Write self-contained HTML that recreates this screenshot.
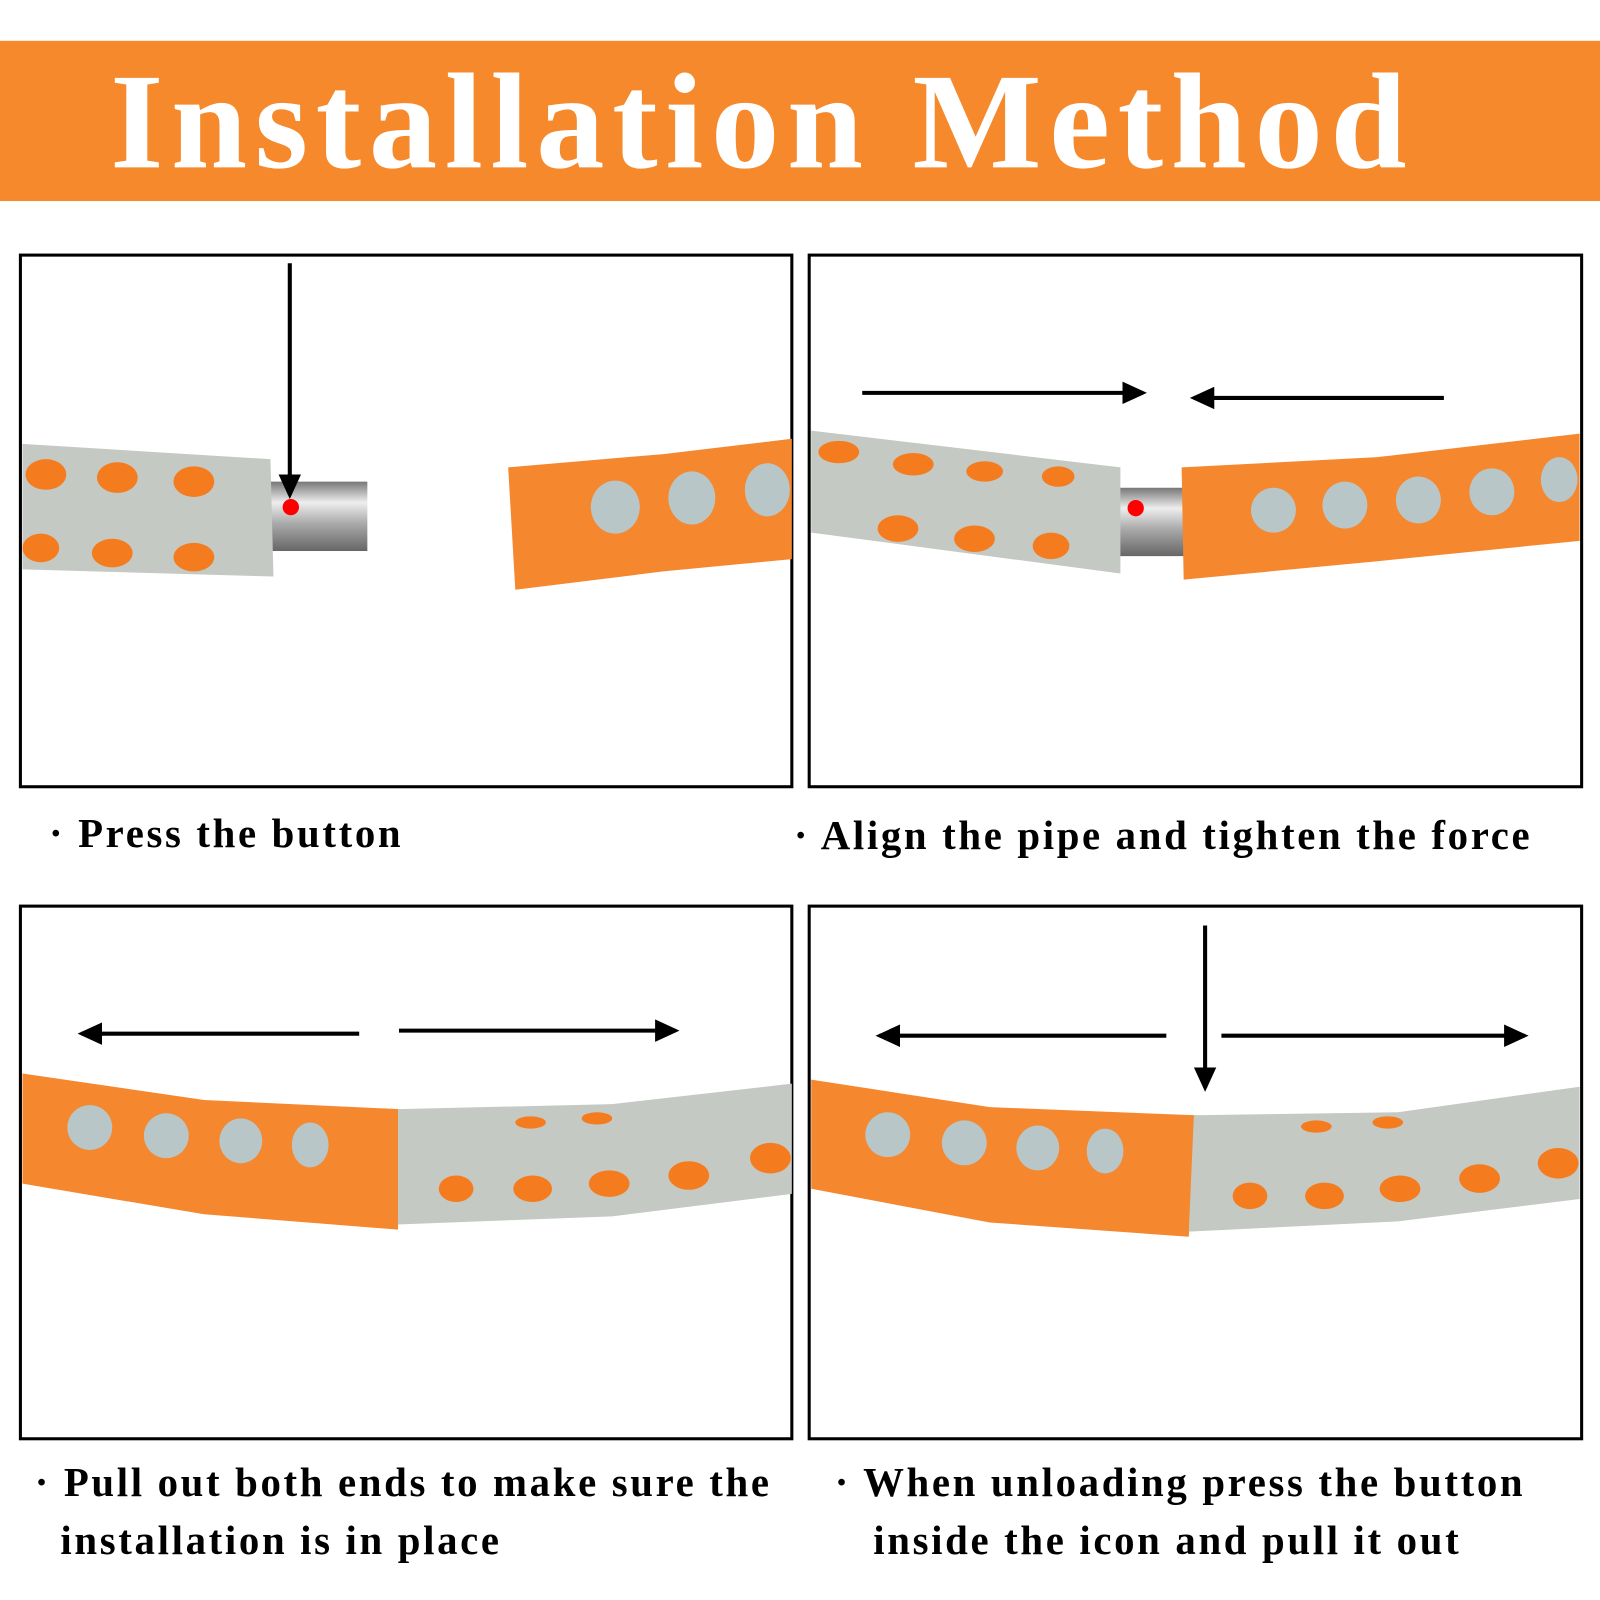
<!DOCTYPE html>
<html><head><meta charset="utf-8"><style>
html,body{margin:0;padding:0;background:#fff;width:1600px;height:1600px;overflow:hidden}
#c{position:absolute;left:0;top:0;width:1568px;height:1568px;transform:scale(1.020408);transform-origin:0 0}
.band{position:absolute;left:0;top:40px;width:1568px;height:157px;background:#f5892b}
.title{position:absolute;left:108px;top:42px;font:bold 134px "Liberation Serif",serif;color:#fff;white-space:nowrap;letter-spacing:7.5px}
.cap{position:absolute;font:bold 40px "Liberation Serif",serif;color:#000;white-space:nowrap;letter-spacing:2.6px;line-height:57px}
</style></head><body><div id="c">
<div class="band"></div>
<div class="title">Installation Method</div>
<svg width="1568" height="1568" style="position:absolute;left:0;top:0">
<defs>
<marker id="a" markerWidth="24" markerHeight="22" refX="20" refY="11" orient="auto" markerUnits="userSpaceOnUse" viewBox="0 0 24 22"><path d="M0,0 L24,11 L0,22z"/></marker>
<linearGradient id="m" x1="0" y1="0" x2="0" y2="1"><stop offset="0" stop-color="#777"/><stop offset=".3" stop-color="#eee"/><stop offset=".6" stop-color="#aaa"/><stop offset="1" stop-color="#666"/></linearGradient>
</defs>
<g fill="none" stroke="#000" stroke-width="3">
<rect x="20" y="250" width="756" height="521"/><rect x="793" y="250" width="757" height="521"/>
<rect x="20" y="888" width="756" height="522"/><rect x="793" y="888" width="757" height="522"/>
</g>
<rect x="262" y="472" width="98" height="68" fill="url(#m)"/>
<path d="M22,435 L265,450 L268,565 L22,558z" fill="#c4c9c4"/>
<g fill="#f57c1e"><ellipse cx="45" cy="465" rx="20" ry="15"/><ellipse cx="115" cy="468" rx="20" ry="15"/><ellipse cx="190" cy="472" rx="20" ry="15"/><ellipse cx="40" cy="537" rx="18" ry="14"/><ellipse cx="110" cy="542" rx="20" ry="14"/><ellipse cx="190" cy="546" rx="20" ry="14"/></g>
<path d="M498,458 L650,445 L776,430 L776,548 L650,560 L505,578z" fill="#f5872e"/>
<g fill="#b9c6c8"><ellipse cx="603" cy="497" rx="24" ry="26"/><ellipse cx="678" cy="488" rx="23" ry="26"/><ellipse cx="752" cy="480" rx="22" ry="26"/></g>
<circle cx="285" cy="497" r="8" fill="#f00"/>
<line x1="284" y1="258" x2="284" y2="485" stroke="#000" stroke-width="4" marker-end="url(#a)"/>
<rect x="1096" y="478" width="64" height="67" fill="url(#m)"/>
<path d="M795,422 L1098,458 L1098,562 L795,522z" fill="#c4c9c4"/>
<g fill="#f57c1e"><ellipse cx="822" cy="443" rx="20" ry="11"/><ellipse cx="895" cy="455" rx="20" ry="11"/><ellipse cx="965" cy="462" rx="18" ry="10"/><ellipse cx="1037" cy="467" rx="16" ry="10"/><ellipse cx="880" cy="518" rx="20" ry="13"/><ellipse cx="955" cy="528" rx="20" ry="13"/><ellipse cx="1030" cy="535" rx="18" ry="13"/></g>
<path d="M1158,458 L1350,448 L1548,425 L1548,530 L1350,550 L1160,568z" fill="#f5872e"/>
<g fill="#b9c6c8"><ellipse cx="1248" cy="500" rx="22" ry="22"/><ellipse cx="1318" cy="495" rx="22" ry="23"/><ellipse cx="1390" cy="490" rx="22" ry="23"/><ellipse cx="1462" cy="482" rx="22" ry="23"/><ellipse cx="1528" cy="470" rx="18" ry="22"/></g>
<circle cx="1113" cy="498" r="8" fill="#f00"/>
<line x1="845" y1="385" x2="1120" y2="385" stroke="#000" stroke-width="4" marker-end="url(#a)"/>
<line x1="1415" y1="390" x2="1170" y2="390" stroke="#000" stroke-width="4" marker-end="url(#a)"/>
<path d="M22,1052 L200,1078 L392,1087 L390,1205 L200,1190 L22,1160z" fill="#f5872e"/>
<g fill="#b9c6c8"><ellipse cx="88" cy="1105" rx="22" ry="22"/><ellipse cx="163" cy="1113" rx="22" ry="22"/><ellipse cx="236" cy="1118" rx="21" ry="22"/><ellipse cx="304" cy="1122" rx="18" ry="22"/></g>
<path d="M390,1087 L600,1082 L776,1062 L776,1170 L600,1192 L390,1200z" fill="#c4c9c4"/>
<g fill="#f57c1e"><ellipse cx="447" cy="1165" rx="17" ry="13"/><ellipse cx="522" cy="1165" rx="19" ry="13"/><ellipse cx="597" cy="1160" rx="20" ry="13"/><ellipse cx="675" cy="1152" rx="20" ry="14"/><ellipse cx="755" cy="1135" rx="20" ry="15"/><ellipse cx="520" cy="1100" rx="15" ry="6"/><ellipse cx="585" cy="1096" rx="15" ry="6"/></g>
<line x1="352" y1="1013" x2="80" y2="1013" stroke="#000" stroke-width="4" marker-end="url(#a)"/>
<line x1="391" y1="1010" x2="662" y2="1010" stroke="#000" stroke-width="4" marker-end="url(#a)"/>
<path d="M795,1058 L970,1085 L1172,1093 L1165,1212 L970,1198 L795,1165z" fill="#f5872e"/>
<g fill="#b9c6c8"><ellipse cx="870" cy="1112" rx="22" ry="22"/><ellipse cx="945" cy="1120" rx="22" ry="22"/><ellipse cx="1017" cy="1125" rx="21" ry="22"/><ellipse cx="1083" cy="1128" rx="18" ry="22"/></g>
<path d="M1170,1093 L1370,1090 L1548,1065 L1548,1175 L1370,1197 L1165,1207z" fill="#c4c9c4"/>
<g fill="#f57c1e"><ellipse cx="1225" cy="1172" rx="17" ry="13"/><ellipse cx="1298" cy="1172" rx="19" ry="13"/><ellipse cx="1372" cy="1165" rx="20" ry="13"/><ellipse cx="1450" cy="1155" rx="20" ry="14"/><ellipse cx="1527" cy="1140" rx="20" ry="15"/><ellipse cx="1290" cy="1104" rx="15" ry="6"/><ellipse cx="1360" cy="1100" rx="15" ry="6"/></g>
<line x1="1143" y1="1015" x2="862" y2="1015" stroke="#000" stroke-width="4" marker-end="url(#a)"/>
<line x1="1197" y1="1015" x2="1494" y2="1015" stroke="#000" stroke-width="4" marker-end="url(#a)"/>
<line x1="1181" y1="907" x2="1181" y2="1066" stroke="#000" stroke-width="4" marker-end="url(#a)"/>
</svg>
<div class="cap" style="left:48px;top:788px">· Press the button</div>
<div class="cap" style="left:778px;top:790px">· Align the pipe and tighten the force</div>
<div class="cap" style="left:34px;top:1424px">· Pull out both ends to make sure the<br>&nbsp;&nbsp;installation is in place</div>
<div class="cap" style="left:818px;top:1424px">· When unloading press the button<br>&nbsp;&nbsp;&nbsp;inside the icon and pull it out</div>
</div></body></html>
